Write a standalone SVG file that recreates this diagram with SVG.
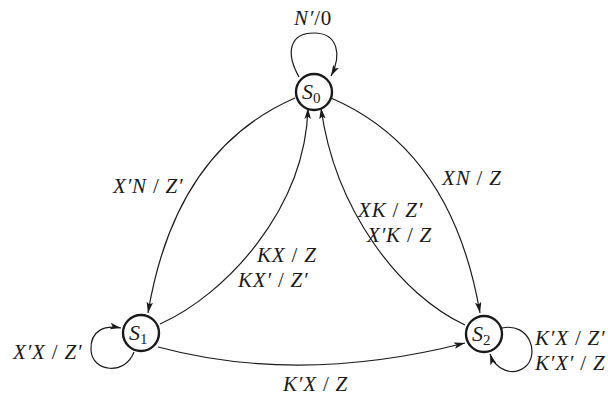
<svg xmlns="http://www.w3.org/2000/svg" width="608" height="396" viewBox="0 0 608 396">
<style>
.st{fill:#fff;stroke:#1a1a1a;stroke-width:2.4}
.e{fill:none;stroke:#1a1a1a;stroke-width:1.2;marker-end:url(#ah)}
text{font-family:"Liberation Serif","Times New Roman",serif;fill:#1a1a1a}
.lb{font-size:21px;font-style:italic;letter-spacing:0.8px}
.sl{font-style:normal}
.nm{font-size:22px;font-style:italic}
.sub{font-size:15px;font-style:normal}
</style>
<defs>
<marker id="ah" markerUnits="userSpaceOnUse" markerWidth="12" markerHeight="8" refX="11" refY="3.25" orient="auto">
<path d="M0,0 L11,3.25 L0,6.5 L2.5,3.25 z" fill="#1a1a1a"/>
</marker>
</defs>
<g id="connectors">
<path class="e" d="M299,77 C285,52 290,33 314,33 C338,33 342,55 331,76"/>
<path class="e" d="M295,98 Q175,150 148,313"/>
<path class="e" d="M160,324 C225,295 305,210 308,108"/>
<path class="e" d="M331,98 Q452,150 480,313"/>
<path class="e" d="M465,325 C400,295 335,210 321,108"/>
<path class="e" d="M158,347 Q300,385 465,343"/>
<path class="e" d="M134,352 C125,376 92,372 91,350 C90,330 105,325 121,328"/>
<path class="e" d="M502,328 C530,322 540,355 525,367 C512,377 495,369 490,354"/>
</g>
<g id="S0">
<circle class="st" cx="314" cy="92" r="18"/>
<text class="nm" x="302" y="99">S<tspan class="sub" dy="4">0</tspan></text>
</g>
<g id="S1">
<circle class="st" cx="141" cy="333" r="18"/>
<text class="nm" x="129" y="340">S<tspan class="sub" dy="4">1</tspan></text>
</g>
<g id="S2">
<circle class="st" cx="484" cy="334" r="18"/>
<text class="nm" x="472" y="341">S<tspan class="sub" dy="4">2</tspan></text>
</g>
<g id="labels">
<text class="lb" x="294" y="25">N′<tspan class="sl">/0</tspan></text>
<text class="lb" x="113" y="193">X′N<tspan class="sl"> / </tspan>Z′</text>
<text class="lb" x="442" y="185">XN<tspan class="sl"> / </tspan>Z</text>
<text class="lb" x="257" y="262">KX<tspan class="sl"> / </tspan>Z</text>
<text class="lb" x="238" y="287">KX′<tspan class="sl"> / </tspan>Z′</text>
<text class="lb" x="358" y="217">XK<tspan class="sl"> / </tspan>Z′</text>
<text class="lb" x="367" y="242">X′K<tspan class="sl"> / </tspan>Z</text>
<text class="lb" x="13" y="359">X′X<tspan class="sl"> / </tspan>Z′</text>
<text class="lb" x="535" y="345">K′X<tspan class="sl"> / </tspan>Z′</text>
<text class="lb" x="535" y="370">K′X′<tspan class="sl"> / </tspan>Z</text>
<text class="lb" x="283" y="391">K′X<tspan class="sl"> / </tspan>Z</text>
</g>
</svg>
